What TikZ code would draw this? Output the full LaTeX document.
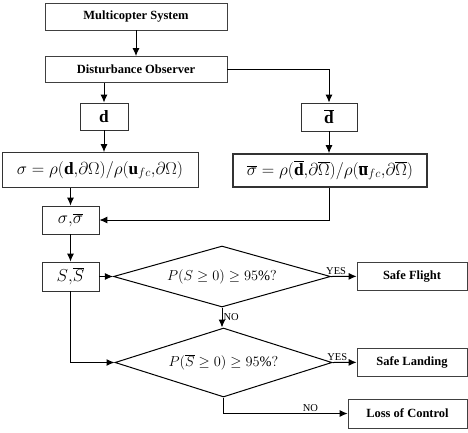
\documentclass[tikz,border=0pt]{standalone}
\usepackage{fontspec}
\setmainfont{Liberation Serif}
\usepackage{tikz}
\usetikzlibrary{arrows.meta,positioning,calc,shapes.geometric}

\begin{document}
\begin{tikzpicture}[
  x=1pt, y=-1pt,
  box/.style={draw=black!75, line width=0.8pt, inner sep=2pt, font=\fontsize{12.5}{14}\selectfont\bfseries},
  mbox/.style={draw=black!80, line width=0.8pt, inner sep=1pt, font=\fontsize{17.28}{19}\selectfont},
  decision/.style={diamond, draw, line width=1pt, aspect=3.5, inner sep=0pt, font=\fontsize{14.4}{17}\selectfont},
  flow/.style={line width=1pt, -{Latex[length=8pt,width=7pt]}},
  tag/.style={font=\fontsize{10.5}{12}\selectfont, inner sep=1pt},
]
\useasboundingbox (0,0) rectangle (468,432);

% observer chain
\node[box, minimum width=182, minimum height=27] (sys) at (136,16.5) {Multicopter System};
\node[box, minimum width=182, minimum height=26] (obs) at (136,69.5) {Disturbance Observer};

% left branch: d
\node[mbox, minimum width=48, minimum height=27] (d) at (104,116.5) {$\mathbf{d}$};
\node[mbox, minimum width=196, minimum height=35] (sig) at (100,170)
  {$\sigma=\rho\Bigl(\mathbf{d}{,}\partial\Omega\Bigr)/\rho\Bigl(\mathbf{u}_{fc}{,}\partial\Omega\Bigr)$};

% right branch: d bar
\node[mbox, minimum width=56, minimum height=28] (db) at (329,117) {$\overline{\mathbf{d}}$};
\node[mbox, line width=1.6pt, minimum width=194, minimum height=33] (sigb) at (330,170.5)
  {$\overline{\sigma}=\rho\Bigl(\overline{\mathbf{d}}{,}\partial\overline{\Omega}\Bigr)/\rho\Bigl(\overline{\mathbf{u}}_{fc}{,}\partial\overline{\Omega}\Bigr)$};

% merged values
\node[mbox, minimum width=57, minimum height=28] (ss) at (70.5,220) {$\sigma{,}\overline{\sigma}$};
\node[mbox, minimum width=57, minimum height=29] (S) at (70.5,276.5) {$S{,}\overline{S}$};

% decisions
\node[decision, minimum width=217, minimum height=61] (dec1) at (222,276.5) {$P\bigl(S\geq 0\bigr)\geq 95\%?$};
\node[decision, minimum width=217, minimum height=69] (dec2) at (223.5,362.5) {$P\Bigl(\overline{S}\geq 0\Bigr)\geq 95\%?$};

% outcomes
\node[box, minimum width=110, minimum height=28] (flight) at (412,276) {Safe Flight};
\node[box, minimum width=110, minimum height=28] (landing) at (412,362) {Safe Landing};
\node[box, minimum width=119, minimum height=29] (loss) at (407.5,413.5) {Loss of Control};

% connectors
\draw[flow] (sys) -- (obs);
\draw[flow] (obs.south -| d) -- (d);
\draw[flow] (d) -- (d |- sig.north);
\draw[flow] (obs.east) -| (db.north);
\draw[flow] (db) -- (db |- sigb.north);
\draw[flow] (sig.south -| ss) -- (ss);
\draw[flow] (sigb.south -| db) |- (ss.east);
\draw[flow] (ss) -- (S);
\draw[flow] (S) -- (dec1);
\draw[flow] (dec1.east) -- node[tag, above, pos=0.2] {YES} (flight);
\draw[flow] (dec1.south) -- node[tag, right] {NO} (dec1.south |- dec2.north);
\draw[flow] (S.south) |- (dec2.west);
\draw[flow] (dec2.east) -- node[tag, above, pos=0.2] {YES} (landing);
\draw[flow] (dec2.south) |- node[tag, above, pos=0.85] {NO} (loss.west);

\end{tikzpicture}
\end{document}
